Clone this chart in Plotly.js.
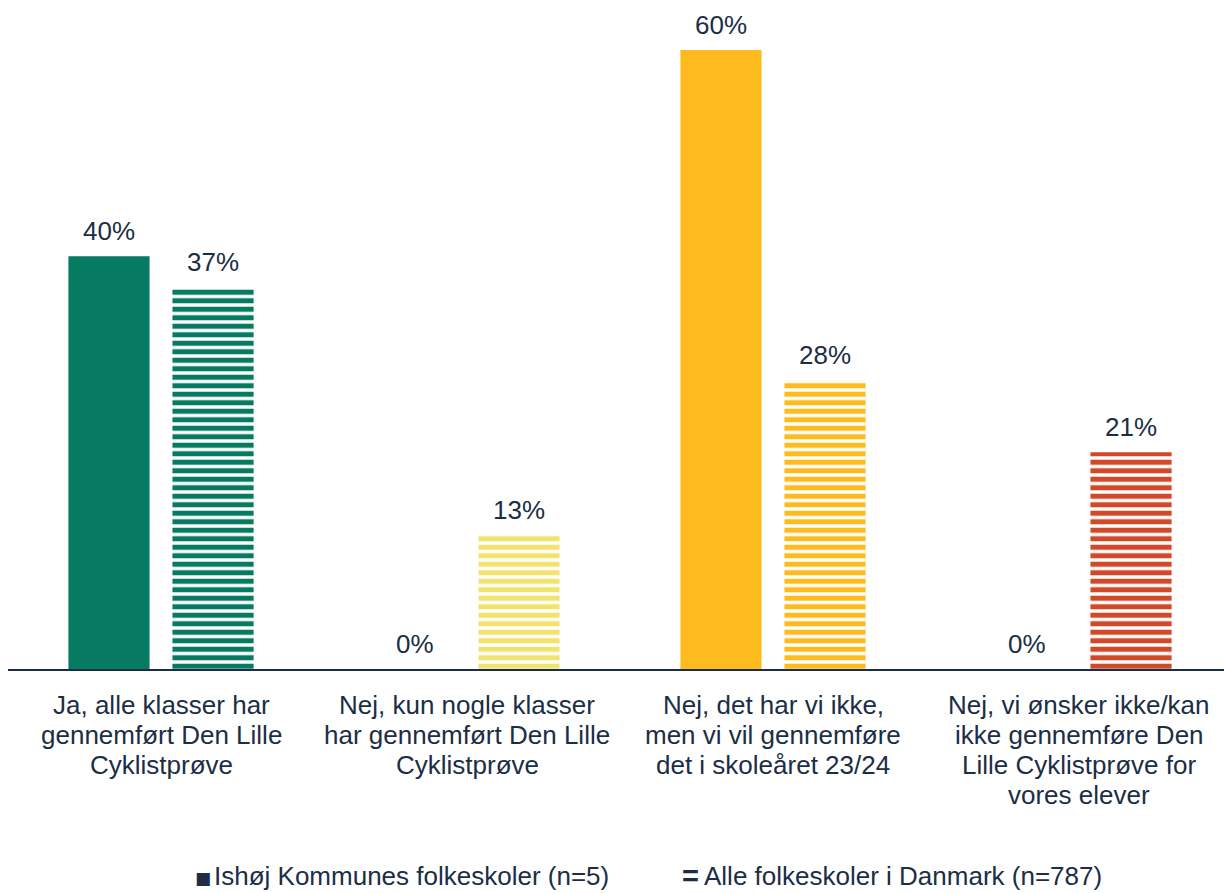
<!DOCTYPE html>
<html>
<head>
<meta charset="utf-8">
<script src="https://cdn.plot.ly/plotly-3.0.1.min.js"></script>
<style>html,body{margin:0;padding:0;background:#fff;}#chart{width:1224px;height:893px;}</style>
</head>
<body>
<div id="chart"></div>
<script>
const categories = [
  "Ja, alle klasser har<br>gennemført Den Lille<br>Cyklistprøve",
  "Nej, kun nogle klasser<br>har gennemført Den Lille<br>Cyklistprøve",
  "Nej, det har vi ikke,<br>men vi vil gennemføre<br>det i skoleåret 23/24",
  "Nej, vi ønsker ikke/kan<br>ikke gennemføre Den<br>Lille Cyklistprøve for<br>vores elever"
];
const seriesNames = ["Ishøj Kommunes folkeskoler (n=5)", "Alle folkeskoler i Danmark (n=787)"];
const ishojValues = [40, 0, 60, 0];
const danmarkValues = [37, 13, 28, 21];
const barColors = ["#077A62", "#F0E46E", "#FDBB1E", "#D2492A"];

const textColor = "#1B2E45";
const fontFamily = "'Liberation Sans', Arial, sans-serif";
const fs = 26;

const M = {l: 8, r: 0, t: 50, b: 224};
const W = 1224, H = 893;
const plotW = W - M.l - M.r, plotH = H - M.t - M.b;
const baseY = H - M.b;
const catWidthPx = 306;
const pyToPaper = py => (baseY - py) / plotH;

const traces = [
  {
    type: "bar", name: seriesNames[0], x: categories, y: ishojValues,
    marker: {color: barColors, line: {width: 0}},
    hoverinfo: "none"
  },
  {
    type: "bar", name: seriesNames[1], x: categories, y: danmarkValues,
    marker: {color: barColors, line: {width: 0},
      pattern: {shape: "-", fgcolor: barColors, bgcolor: "#ffffff", fillmode: "replace", size: 8.5, solidity: 0.6}},
    hoverinfo: "none"
  }
];

const annotations = [];
// data labels
[ishojValues, danmarkValues].forEach((vals, si) => {
  vals.forEach((v, i) => {
    annotations.push({
      xref: "x", yref: "y", x: categories[i], y: v, xshift: si === 0 ? -52 : 52, yshift: 25,
      xanchor: "center", yanchor: "middle", showarrow: false, text: v + "%",
      font: {family: fontFamily, size: fs, color: textColor}
    });
  });
});
// category labels, one line per annotation for tighter line spacing
categories.forEach(c => {
  c.split("<br>").forEach((line, li) => {
    annotations.push({
      xref: "x", yref: "paper", x: c, y: pyToPaper(705 + li * 30),
      xanchor: "center", yanchor: "middle", showarrow: false, text: line,
      font: {family: fontFamily, size: fs, color: textColor}
    });
  });
});
// legend
const legY = pyToPaper(876);
annotations.push(
  {xref: "paper", yref: "paper", x: (194 - M.l) / plotW, y: pyToPaper(878), xanchor: "left", yanchor: "middle", showarrow: false,
    borderpad: 0, text: "■", font: {family: "DejaVu Sans", size: 17, color: textColor}},
  {xref: "paper", yref: "paper", x: (213 - M.l) / plotW, y: legY, xanchor: "left", yanchor: "middle", showarrow: false,
    borderpad: 0, text: seriesNames[0], font: {family: fontFamily, size: fs, color: textColor}},
  {xref: "paper", yref: "paper", x: (681 - M.l) / plotW, y: legY, xanchor: "left", yanchor: "middle", showarrow: false,
    borderpad: 0, text: "<b>=</b>", font: {family: fontFamily, size: 29, color: textColor}},
  {xref: "paper", yref: "paper", x: (703 - M.l) / plotW, y: legY, xanchor: "left", yanchor: "middle", showarrow: false,
    borderpad: 0, text: seriesNames[1], font: {family: fontFamily, size: fs, color: textColor}}
);

const layout = {
  width: W, height: H,
  margin: M,
  paper_bgcolor: "#fff", plot_bgcolor: "#fff",
  showlegend: false,
  barmode: "group", bargap: 0.32, bargroupgap: 0.22,
  font: {family: fontFamily, size: fs, color: textColor},
  xaxis: {showline: true, linecolor: "#1B2E45", linewidth: 2, ticks: "", showgrid: false, zeroline: false,
    showticklabels: false, range: [-0.5, -0.5 + plotW / catWidthPx], fixedrange: true},
  yaxis: {range: [0, 60], visible: false, showgrid: false, zeroline: false, fixedrange: true},
  annotations: annotations
};

Plotly.newPlot("chart", traces, layout, {displayModeBar: false, staticPlot: true});
</script>
</body>
</html>
